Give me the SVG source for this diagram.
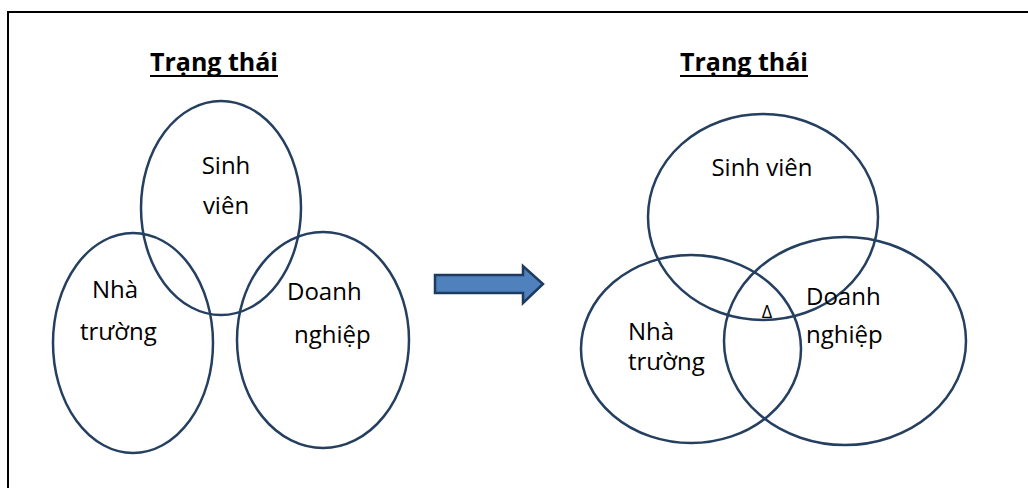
<svg xmlns="http://www.w3.org/2000/svg" width="1028" height="488" viewBox="0 0 1028 488">
  <style>
    .set { fill: none; stroke: #243f60; stroke-width: 2.5; }
    .lbl { font-family: "Open Sans", "Noto Sans", "Liberation Sans", sans-serif; font-size: 24px; fill: #000; }
    .title { font-family: "Open Sans", "Noto Sans", "Liberation Sans", sans-serif; font-size: 25px; font-weight: bold; fill: #000; }
    .mid { text-anchor: middle; }
  </style>

  <rect x="0" y="0" width="1028" height="488" fill="#fff"/>
  <!-- page frame, running off the right and bottom edges -->
  <rect x="8" y="12" width="1040" height="500" fill="none" stroke="#000" stroke-width="2"/>

  <!-- before: three sets barely touching -->
  <g id="title-left">
    <text class="title mid" x="214" y="71">Trạng thái</text>
    <line x1="150" y1="76" x2="278" y2="76" stroke="#000" stroke-width="2"/>
  </g>
  <g id="left-sinhvien">
    <ellipse class="set" cx="221" cy="208" rx="80" ry="107"/>
    <text class="lbl mid" x="226" y="174">Sinh</text>
    <text class="lbl mid" x="226" y="214">viên</text>
  </g>
  <g id="left-nhatruong">
    <ellipse class="set" cx="133" cy="343" rx="80" ry="110"/>
    <text class="lbl" x="92" y="298">Nhà</text>
    <text class="lbl" x="80" y="340">trường</text>
  </g>
  <g id="left-doanhnghiep">
    <ellipse class="set" cx="323" cy="340" rx="86" ry="108"/>
    <text class="lbl" x="287" y="300">Doanh</text>
    <text class="lbl" x="294" y="343">nghiệp</text>
  </g>

  <!-- transition arrow -->
  <g id="connectors">
    <path d="M435,275 H523 V266 L543,284 L523,303 V293 H435 Z" fill="#4f81bd" stroke="#1f3a5f" stroke-width="2.5" stroke-linejoin="miter"/>
  </g>

  <!-- after: three overlapping sets -->
  <g id="title-right">
    <text class="title mid" x="744" y="71">Trạng thái</text>
    <line x1="680" y1="76" x2="808" y2="76" stroke="#000" stroke-width="2"/>
  </g>
  <g id="right-sinhvien">
    <ellipse class="set" cx="763" cy="217" rx="115" ry="103"/>
    <text class="lbl mid" x="762" y="176">Sinh viên</text>
  </g>
  <g id="right-nhatruong">
    <ellipse class="set" cx="691" cy="349" rx="110" ry="94"/>
    <text class="lbl" x="628" y="340">Nhà</text>
    <text class="lbl" x="628" y="370">trường</text>
  </g>
  <g id="right-doanhnghiep">
    <ellipse class="set" cx="845" cy="341" rx="121" ry="104"/>
    <text class="lbl" x="806" y="305">Doanh</text>
    <text class="lbl" x="806" y="343">nghiệp</text>
  </g>
  <g id="overlap">
    <text class="mid" x="767" y="318" font-family="'Open Sans', 'Noto Sans', sans-serif" font-size="18">Δ</text>
  </g>
</svg>
